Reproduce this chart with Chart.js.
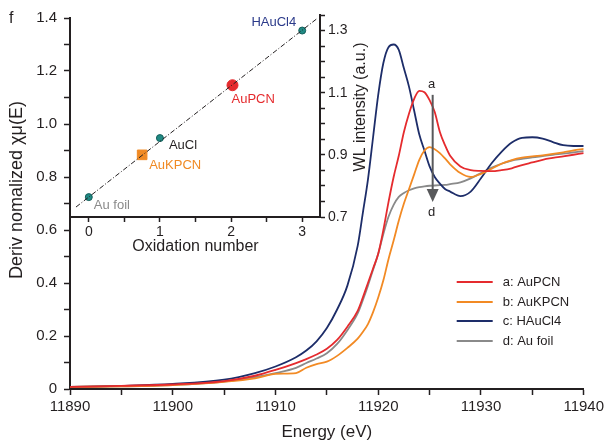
<!DOCTYPE html>
<html>
<head>
<meta charset="utf-8">
<script src="https://cdn.jsdelivr.net/npm/chart.js@4"></script>
<style>
  body { margin: 0; background: #fff; }
  #wrap { position: relative; width: 607px; height: 447px; }
  #wrap canvas { position: absolute; left: 0; top: 0; }
</style>
</head>
<body>
<div id="wrap">
  <canvas id="main" width="607" height="447"></canvas>
  <canvas id="inset" width="375" height="260"></canvas>
</div>
<script>
// energias (eV) comuns a todas as curvas
const energy = [11890, 11895, 11900, 11905, 11908, 11910, 11912, 11913, 11914, 11915, 11916, 11917, 11918, 11918.5,
  11919, 11919.5, 11920, 11920.5, 11921, 11921.5, 11922, 11922.5, 11923, 11923.5, 11924, 11924.5, 11925, 11925.5,
  11926, 11926.5, 11927, 11928, 11929, 11930, 11931, 11932, 11933, 11934, 11935, 11936, 11937, 11938, 11939, 11940];

const auPCN = [0.008, 0.012, 0.017, 0.03, 0.05, 0.072, 0.098, 0.113, 0.13, 0.152, 0.185, 0.235, 0.295, 0.345,
  0.4, 0.455, 0.51, 0.6, 0.705, 0.8, 0.88, 0.97, 1.04, 1.095, 1.125, 1.12, 1.09, 1.045,
  0.97, 0.92, 0.88, 0.84, 0.826, 0.823, 0.822, 0.826, 0.833, 0.845, 0.855, 0.865, 0.872, 0.878, 0.884, 0.89];

const auKPCN = [0.008, 0.01, 0.015, 0.027, 0.04, 0.057, 0.06, 0.08, 0.094, 0.103, 0.125, 0.155, 0.19, 0.215,
  0.245, 0.29, 0.345, 0.41, 0.49, 0.56, 0.635, 0.7, 0.755, 0.81, 0.865, 0.9, 0.913, 0.905,
  0.89, 0.87, 0.848, 0.815, 0.8, 0.812, 0.83, 0.85, 0.864, 0.873, 0.878, 0.882, 0.887, 0.893, 0.9, 0.906];

const hAuCl4 = [0.008, 0.012, 0.019, 0.035, 0.06, 0.085, 0.12, 0.145, 0.18, 0.23, 0.3, 0.39, 0.54, 0.664,
  0.79, 0.95, 1.11, 1.23, 1.29, 1.3, 1.28, 1.21, 1.14, 1.05, 0.96, 0.9, 0.84, 0.8,
  0.775, 0.755, 0.745, 0.728, 0.745, 0.795, 0.85, 0.895, 0.93, 0.948, 0.95, 0.945, 0.932, 0.92, 0.917, 0.917];

const auFoil = [0.008, 0.01, 0.015, 0.028, 0.045, 0.06, 0.08, 0.098, 0.115, 0.135, 0.17, 0.222, 0.285, 0.335,
  0.39, 0.45, 0.51, 0.585, 0.65, 0.695, 0.725, 0.74, 0.75, 0.757, 0.762, 0.765, 0.767, 0.768,
  0.769, 0.77, 0.773, 0.78, 0.795, 0.815, 0.835, 0.85, 0.862, 0.868, 0.874, 0.879, 0.884, 0.888, 0.893, 0.898];

const seriesLabels = ['a: AuPCN', 'b: AuKPCN', 'c: HAuCl4', 'd: Au foil'];
const seriesColors = ['#e52b2e', '#f28a24', '#1d2d69', '#8a8a8a'];

// seta a -> d
const arrowEnergy = 11925.3;
const arrowFrom = 1.11;
const arrowTo = 0.706;

// inset: estado de oxidação x intensidade WL
const oxNames = ['Au foil', 'AuKPCN', 'AuCl', 'AuPCN', 'HAuCl4'];
const oxNumber = [0, 0.75, 1, 2.02, 3];
const wlIntensity = [0.764, 0.9, 0.954, 1.124, 1.3];
const oxColors = ['#208a84', '#f08a24', '#208a84', '#e52b2e', '#208a84'];
const oxTextColors = ['#8a8a8a', '#f08a24', '#231f20', '#e52b2e', '#2b3a8a'];
const oxTicks = [0, 0.5, 1, 1.5, 2, 2.5, 3];
const fitX = [-0.18, 3.2];
const fitY = [0.732, 1.337];

const ink = '#231f20';
const fonte = '"Liberation Sans", Arial, sans-serif';

function pares(xs, ys) {
  return xs.map((x, i) => ({ x: x, y: ys[i] }));
}

const mainSeries = [auPCN, auKPCN, hAuCl4, auFoil];

const anotacoes = {
  id: 'anotacoes',
  afterDraw(chart) {
    const ctx = chart.ctx;
    const sx = chart.scales.x, sy = chart.scales.y;
    const area = chart.chartArea;
    ctx.save();
    // letra do painel
    ctx.fillStyle = ink;
    ctx.font = '16px ' + fonte;
    ctx.textBaseline = 'middle';
    ctx.textAlign = 'left';
    ctx.fillText('f', 9, 19);

    // seta
    const ax = sx.getPixelForValue(arrowEnergy);
    const y1 = sy.getPixelForValue(arrowFrom);
    const y2 = sy.getPixelForValue(arrowTo);
    ctx.strokeStyle = '#58595b';
    ctx.fillStyle = '#58595b';
    ctx.lineWidth = 2;
    ctx.beginPath();
    ctx.moveTo(ax, y1);
    ctx.lineTo(ax, y2 - 10);
    ctx.stroke();
    ctx.beginPath();
    ctx.moveTo(ax - 6, y2 - 13);
    ctx.lineTo(ax + 6, y2 - 13);
    ctx.lineTo(ax, y2);
    ctx.closePath();
    ctx.fill();
    ctx.fillStyle = ink;
    ctx.font = '13px ' + fonte;
    ctx.textAlign = 'center';
    ctx.fillText('a', ax - 1, y1 - 10);
    ctx.fillText('d', ax - 1, y2 + 11);

    // legenda
    const lx = area.right - 127;
    let ly = area.top + 264;
    const gaps = [0, 20, 19, 20];
    ctx.textAlign = 'left';
    ctx.font = '13px ' + fonte;
    seriesLabels.forEach((lab, i) => {
      ly += gaps[i];
      ctx.strokeStyle = seriesColors[i];
      ctx.lineWidth = 2;
      ctx.beginPath();
      ctx.moveTo(lx, ly);
      ctx.lineTo(lx + 36, ly);
      ctx.stroke();
      ctx.fillStyle = ink;
      ctx.fillText(lab, lx + 46, ly);
    });

    // titulo do eixo y
    ctx.font = '18px ' + fonte;
    ctx.textAlign = 'center';
    ctx.translate(17, 190);
    ctx.rotate(-Math.PI / 2);
    ctx.fillText('Deriv nomalized χμ(E)', 0, 0);
    ctx.restore();
  }
};

new Chart(document.getElementById('main'), {
  type: 'line',
  data: {
    datasets: mainSeries.map((vals, i) => ({
      label: seriesLabels[i],
      data: pares(energy, vals),
      borderColor: seriesColors[i],
      borderWidth: 1.8,
      pointRadius: 0,
      cubicInterpolationMode: 'monotone',
      fill: false
    }))
  },
  options: {
    responsive: false,
    animation: false,
    layout: { padding: { top: 18, right: 23, left: 0, bottom: 0 } },
    plugins: { legend: { display: false }, tooltip: { enabled: false } },
    scales: {
      x: {
        type: 'linear', min: 11890, max: 11940,
        afterFit: s => { s.height = 58; },
        border: { color: ink, width: 2 },
        grid: { drawOnChartArea: false, drawTicks: true, tickLength: 6, tickColor: ink, tickWidth: 1.5 },
        ticks: {
          stepSize: 5, autoSkip: false, maxRotation: 0, color: ink, padding: 3,
          font: { family: fonte, size: 15 },
          callback: v => (v % 10 === 0 ? String(v) : '')
        },
        title: { display: true, text: 'Energy (eV)', color: ink, font: { family: fonte, size: 17 }, padding: { top: 2, bottom: 4 } }
      },
      y: {
        min: 0, max: 1.4,
        afterFit: s => { s.width = 70; },
        border: { color: ink, width: 2 },
        grid: { drawOnChartArea: false, drawTicks: true, tickLength: 6, tickColor: ink, tickWidth: 1.5 },
        ticks: {
          stepSize: 0.1, autoSkip: false, color: ink, padding: 7,
          font: { family: fonte, size: 15 },
          callback: v => {
            const k = Math.round(v * 10);
            if (k % 2 !== 0) return '';
            return k === 0 ? '0' : (k / 10).toFixed(1);
          }
        }
      }
    }
  },
  plugins: [anotacoes]
});

// inset
const rotulosInset = {
  id: 'rotulosInset',
  afterDraw(chart) {
    const ctx = chart.ctx;
    const sx = chart.scales.x, sy = chart.scales.y;
    const offs = [[5, 8, 'left'], [7, 11, 'left'], [9, 7, 'left'], [-1, 14, 'left'], [-6, -8, 'right']];
    ctx.save();
    ctx.font = '13px ' + fonte;
    ctx.textBaseline = 'middle';
    oxNames.forEach((nome, i) => {
      const px = sx.getPixelForValue(oxNumber[i]);
      const py = sy.getPixelForValue(wlIntensity[i]);
      ctx.fillStyle = oxTextColors[i];
      ctx.textAlign = offs[i][2];
      ctx.fillText(nome, px + offs[i][0], py + offs[i][1]);
    });
    // titulo do eixo direito, lido de baixo para cima
    ctx.fillStyle = ink;
    ctx.font = '16px ' + fonte;
    ctx.textAlign = 'center';
    ctx.translate(sy.right - 14, (sy.top + sy.bottom) / 2 - 9);
    ctx.rotate(-Math.PI / 2);
    ctx.fillText('WL intensity (a.u.)', 0, 0);
    ctx.restore();
  }
};

new Chart(document.getElementById('inset'), {
  type: 'scatter',
  data: {
    datasets: [
      {
        data: pares(fitX, fitY),
        showLine: true,
        borderColor: '#231f20',
        borderWidth: 1,
        borderDash: [5, 2, 1, 2],
        pointRadius: 0
      },
      {
        data: pares(oxNumber, wlIntensity),
        pointBackgroundColor: oxColors,
        pointBorderColor: oxColors.map(c => (c === '#208a84' ? '#145f5b' : c)),
        pointBorderWidth: 1,
        pointStyle: oxNames.map(n => (n === 'AuKPCN' ? 'rect' : 'circle')),
        pointRadius: oxNames.map(n => (n === 'AuKPCN' ? 6.8 : n === 'AuPCN' ? 5.5 : 3.5))
      }
    ]
  },
  options: {
    responsive: false,
    animation: false,
    layout: { padding: { top: 15, left: 71, right: 0, bottom: 0 } },
    plugins: { legend: { display: false }, tooltip: { enabled: false } },
    scales: {
      x: {
        type: 'linear', min: -0.25, max: 3.25,
        afterFit: s => { s.height = 43; },
        afterBuildTicks: s => { s.ticks = oxTicks.map(v => ({ value: v })); },
        border: { color: ink, width: 2 },
        grid: { drawOnChartArea: false, drawTicks: true, tickLength: 5, tickColor: ink, tickWidth: 1.5 },
        ticks: {
          autoSkip: false, maxRotation: 0, color: ink, padding: 2,
          font: { family: fonte, size: 14 },
          callback: v => (Number.isInteger(v) ? String(v) : '')
        },
        title: { display: true, text: 'Oxidation number', color: ink, font: { family: fonte, size: 16 }, padding: { top: 0, bottom: 4 } }
      },
      y: {
        position: 'right', min: 0.7, max: 1.35,
        afterFit: s => { s.width = 55; },
        border: { color: ink, width: 2 },
        grid: { drawOnChartArea: false, drawTicks: true, tickLength: 5, tickColor: ink, tickWidth: 1.5 },
        ticks: {
          stepSize: 0.05, autoSkip: false, color: ink, padding: 3,
          font: { family: fonte, size: 14 },
          callback: v => {
            const k = Math.round(v * 100);
            return k % 20 === 10 ? (k / 100).toFixed(1) : '';
          }
        }
      }
    }
  },
  plugins: [rotulosInset]
});
</script>
</body>
</html>
